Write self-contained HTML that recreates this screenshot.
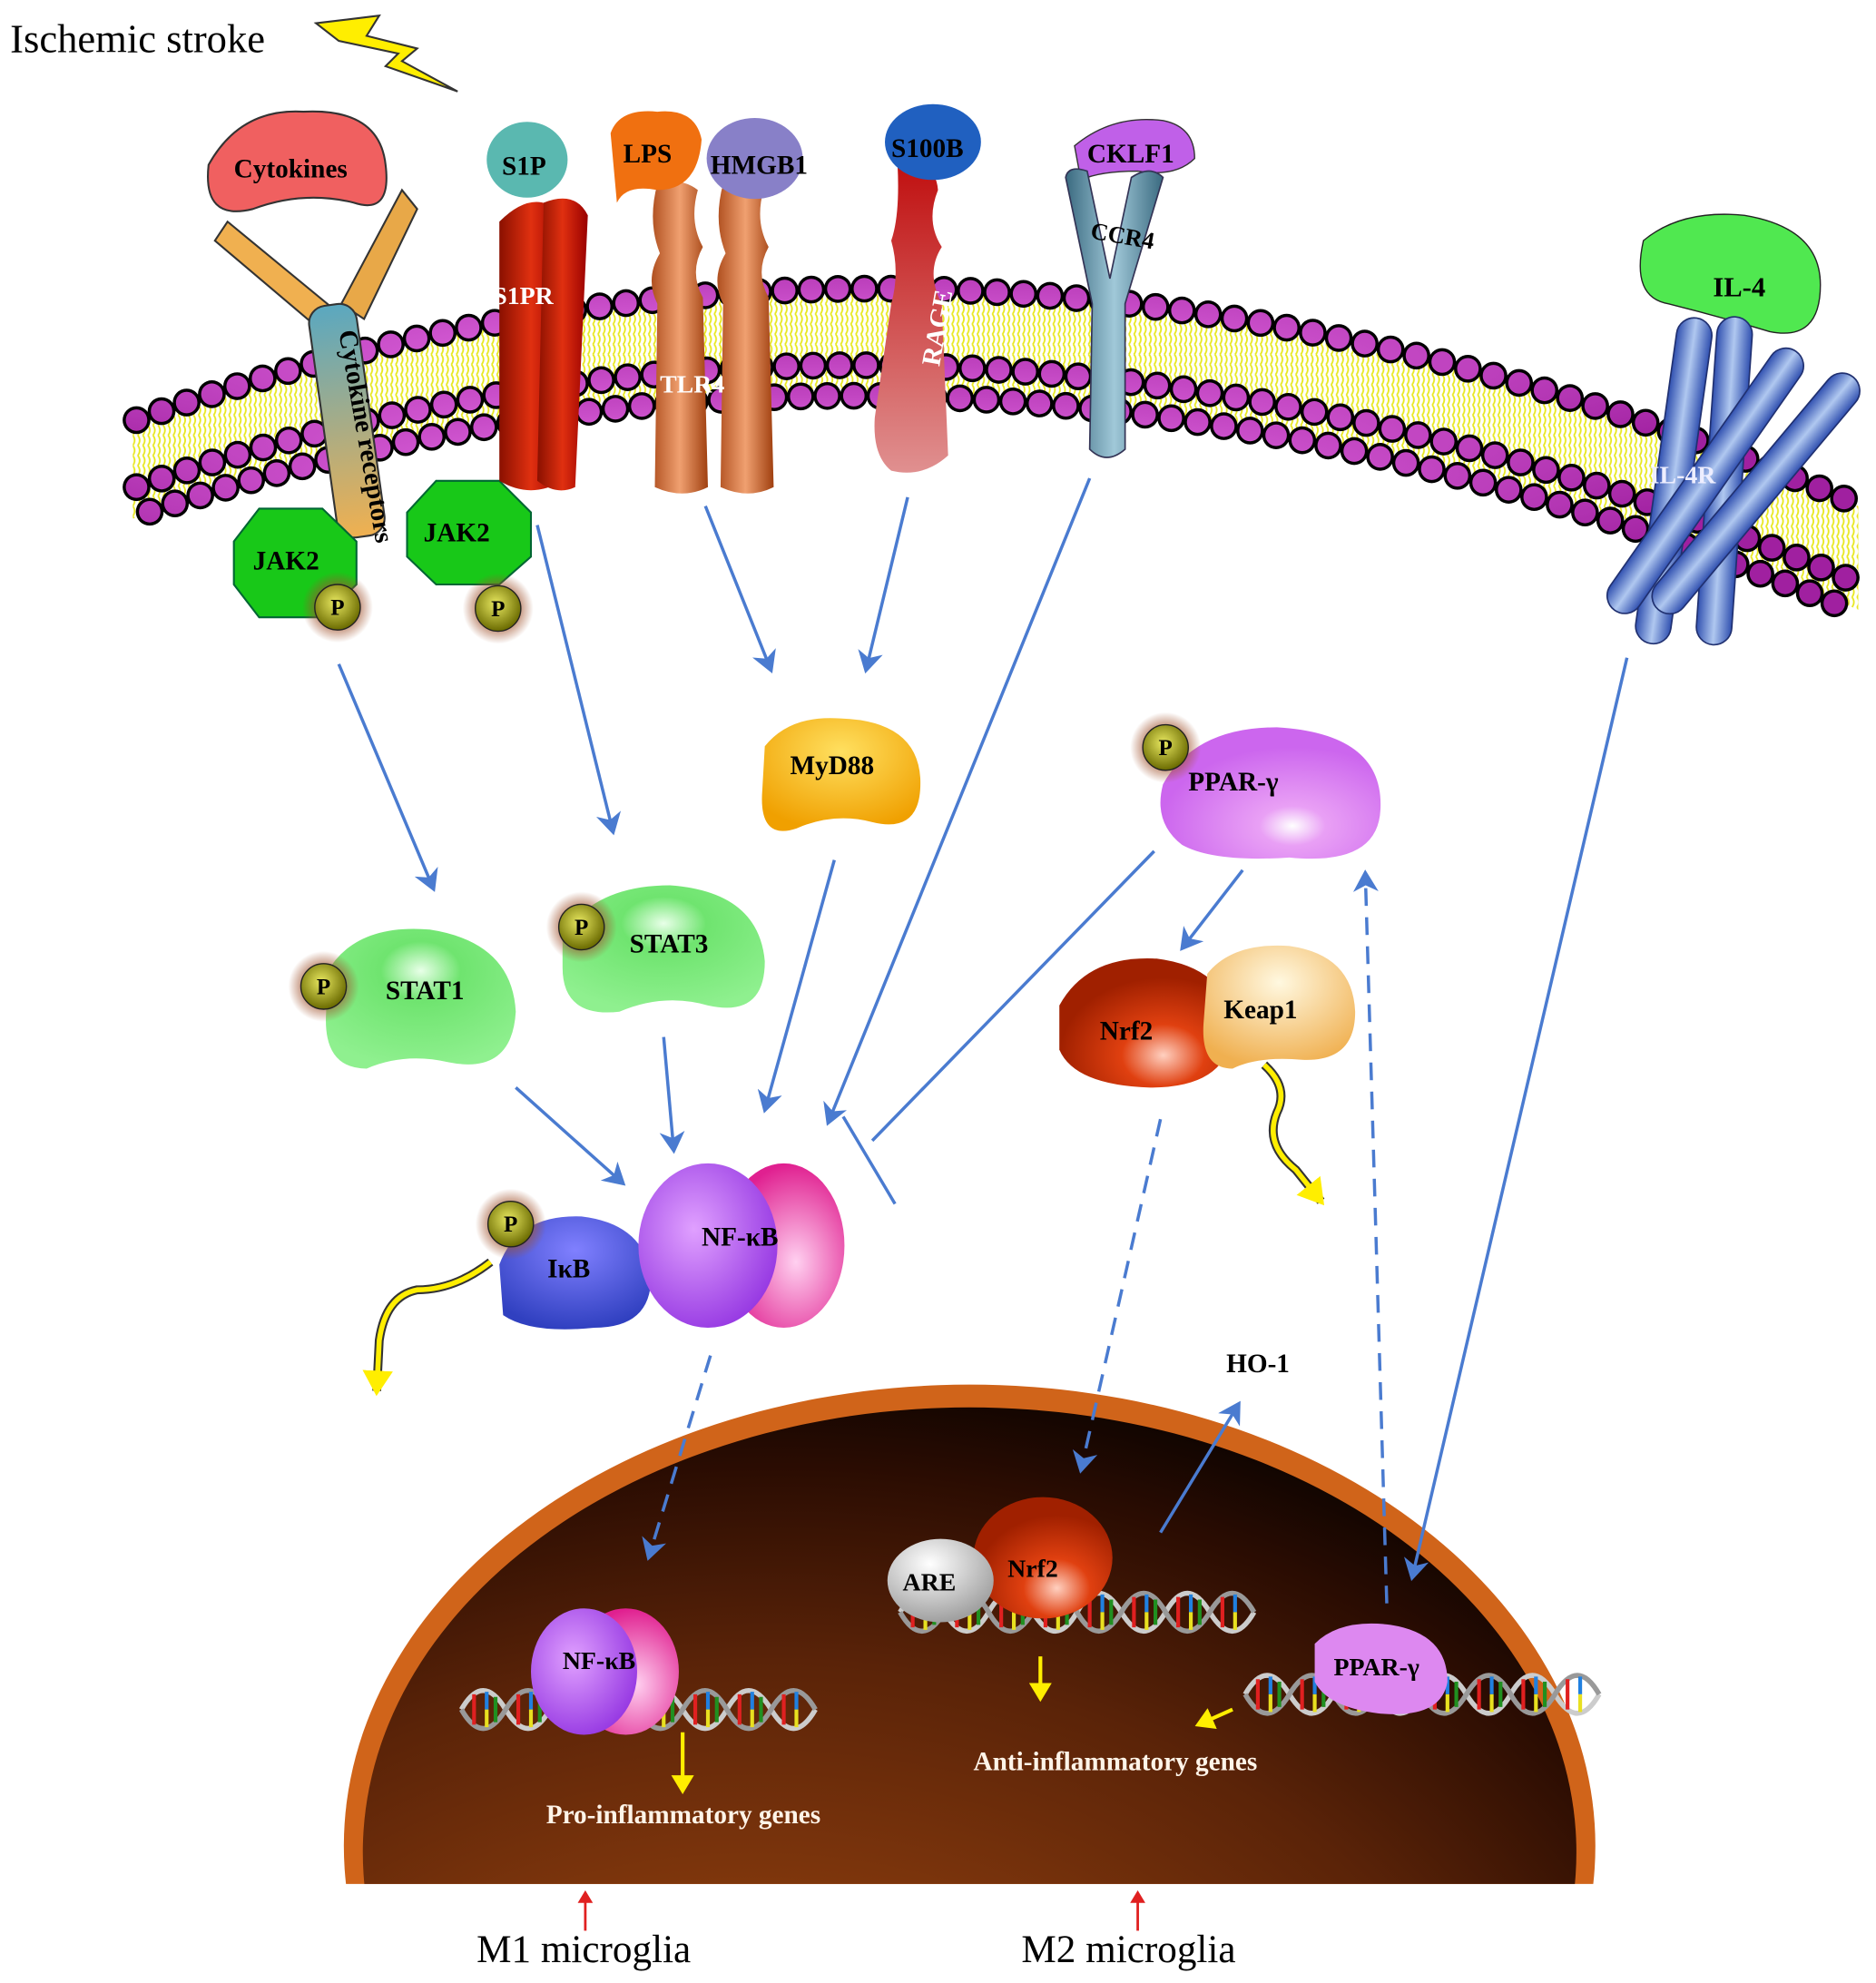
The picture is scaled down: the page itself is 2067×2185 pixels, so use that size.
<!DOCTYPE html>
<html><head><meta charset="utf-8"><style>html,body{margin:0;padding:0;background:#fff;overflow:hidden;width:2067px;height:2185px}svg{display:block}</style></head>
<body>
<svg width="2067" height="2185" viewBox="0 0 1484 1568" xmlns="http://www.w3.org/2000/svg" font-family="'Liberation Serif',serif">
<defs>
<radialGradient id="nuc" cx="0.35" cy="0.85" r="0.95" fx="0.3" fy="1">
<stop offset="0" stop-color="#c8621a"/><stop offset="0.35" stop-color="#8a3c0e"/><stop offset="0.65" stop-color="#5a2308"/><stop offset="0.85" stop-color="#2a0c02"/><stop offset="1" stop-color="#000"/></radialGradient>
<radialGradient id="ball" cx="0.4" cy="0.35" r="0.6"><stop offset="0" stop-color="#f07af0"/><stop offset="1" stop-color="#a020a0"/></radialGradient>
<radialGradient id="pgold" cx="0.45" cy="0.4" r="0.6"><stop offset="0" stop-color="#e8e860"/><stop offset="1" stop-color="#6a6a00"/></radialGradient>
<radialGradient id="glow"><stop offset="0.55" stop-color="#a0522d" stop-opacity="0.7"/><stop offset="1" stop-color="#a0522d" stop-opacity="0"/></radialGradient>
<radialGradient id="green" cx="0.5" cy="0.3" r="0.7"><stop offset="0" stop-color="#e8ffe8"/><stop offset="0.3" stop-color="#6fe46f"/><stop offset="1" stop-color="#8ff08f"/></radialGradient>
<radialGradient id="purp" cx="0.6" cy="0.75" r="0.6"><stop offset="0" stop-color="#fff"/><stop offset="0.25" stop-color="#e9a0f5"/><stop offset="1" stop-color="#cc66ee"/></radialGradient>
<radialGradient id="myd" cx="0.5" cy="0.3" r="0.7"><stop offset="0" stop-color="#ffe060"/><stop offset="1" stop-color="#f0a000"/></radialGradient>
<radialGradient id="nrf" cx="0.6" cy="0.75" r="0.6"><stop offset="0" stop-color="#ffd0c0"/><stop offset="0.4" stop-color="#e04010"/><stop offset="1" stop-color="#a02000"/></radialGradient>
<radialGradient id="keap" cx="0.5" cy="0.3" r="0.7"><stop offset="0" stop-color="#fff8e0"/><stop offset="1" stop-color="#f0b050"/></radialGradient>
<radialGradient id="nfk1" cx="0.4" cy="0.4" r="0.7"><stop offset="0" stop-color="#e0a0ff"/><stop offset="1" stop-color="#9030e0"/></radialGradient>
<radialGradient id="nfk2" cx="0.6" cy="0.6" r="0.6"><stop offset="0" stop-color="#ffd0f0"/><stop offset="1" stop-color="#e02090"/></radialGradient>
<radialGradient id="ikb" cx="0.5" cy="0.3" r="0.7"><stop offset="0" stop-color="#8080ff"/><stop offset="1" stop-color="#3040c0"/></radialGradient>
<radialGradient id="gray" cx="0.4" cy="0.3" r="0.7"><stop offset="0" stop-color="#fff"/><stop offset="1" stop-color="#a0a0a0"/></radialGradient>
<linearGradient id="red" x1="0" x2="1"><stop offset="0" stop-color="#8a1000"/><stop offset="0.5" stop-color="#e03010"/><stop offset="1" stop-color="#900"/></linearGradient>
<linearGradient id="tlr" x1="0" x2="1"><stop offset="0" stop-color="#b05020"/><stop offset="0.5" stop-color="#f0a070"/><stop offset="1" stop-color="#a04010"/></linearGradient>
<linearGradient id="rage" x1="0" y1="0" x2="0" y2="1"><stop offset="0" stop-color="#c01010"/><stop offset="1" stop-color="#e09090"/></linearGradient>
<linearGradient id="ccr" x1="0" x2="1"><stop offset="0" stop-color="#3a6a80"/><stop offset="0.5" stop-color="#a0c8d8"/><stop offset="1" stop-color="#3a6a80"/></linearGradient>
<linearGradient id="il4r" x1="0" x2="1"><stop offset="0" stop-color="#3050b0"/><stop offset="0.5" stop-color="#b0c8f0"/><stop offset="1" stop-color="#3050b0"/></linearGradient>
<linearGradient id="cyt" x1="0" y1="0" x2="0" y2="1"><stop offset="0" stop-color="#5aa8c0"/><stop offset="1" stop-color="#f0b050"/></linearGradient>
<marker id="ab" markerWidth="8" markerHeight="8" refX="6" refY="4" orient="auto" markerUnits="strokeWidth"><path d="M0,0 L7,4 L0,8 L2,4z" fill="#4a7bd0"/></marker>
<marker id="ay" markerWidth="6" markerHeight="6" refX="4" refY="3" orient="auto" markerUnits="strokeWidth"><path d="M0,0 L5,3 L0,6z" fill="#ffee00"/></marker>
<marker id="ar" markerWidth="6" markerHeight="6" refX="4" refY="3" orient="auto" markerUnits="strokeWidth"><path d="M0,0 L5,3 L0,6z" fill="#e02020"/></marker>
<clipPath id="nclip"><rect x="0" y="0" width="1484" height="1490"/></clipPath>
<pattern id="lip" width="8" height="8" patternUnits="userSpaceOnUse"><path d="M1,0 Q4,4 1,8 M5,0 Q8,4 5,8" stroke="#e8e820" stroke-width="1.3" fill="none"/></pattern>
<g id="dna">
<path d="M0,0 q17,-30 35,0 t35,0 t35,0 t35,0 t35,0 t35,0 t35,0 t35,0" stroke="#ccc" stroke-width="4" fill="none"/>
<path d="M0,0 q17,30 35,0 t35,0 t35,0 t35,0 t35,0 t35,0 t35,0 t35,0" stroke="#999" stroke-width="4" fill="none"/>
<g stroke-width="3"><path d="M10,-12v24M45,-12v24M80,-12v24M115,-12v24M150,-12v24M185,-12v24M220,-12v24M255,-12v24" stroke="#e02020"/><path d="M20,-14v14M55,-14v14M90,-14v14M125,-14v14M160,-14v14M195,-14v14M230,-14v14M265,-14v14" stroke="#2080e0"/><path d="M20,0v14M55,0v14M90,0v14M125,0v14M160,0v14M195,0v14M230,0v14M265,0v14" stroke="#e8e020"/><path d="M27,-10v20M62,-10v20M97,-10v20M132,-10v20M167,-10v20M202,-10v20M237,-10v20" stroke="#209020"/></g>
</g>
</defs>
<rect width="1484" height="1568" fill="#fff"/>
<text x="8" y="41" font-size="32">Ischemic stroke</text>
<path d="M250,18 L300,12 L290,28 L330,38 L318,48 L362,72 L305,52 L315,42 L268,32z" fill="#ffee00" stroke="#333" stroke-width="1.5"/>

<path d="M105,332 Q760,95 1470,400 L1470,482 Q760,185 105,410z" fill="url(#lip)"/>
<g fill="none" stroke-linecap="round">
<path d="M108,332 Q760,95 1468,398" stroke="#000" stroke-width="22" stroke-dasharray="0 21"/>
<path d="M108,332 Q760,95 1468,398" stroke="url(#ball)" stroke-width="17" stroke-dasharray="0 21"/>
<path d="M108,385 Q760,160 1468,460" stroke="#000" stroke-width="22" stroke-dasharray="0 21"/>
<path d="M108,385 Q760,160 1468,460" stroke="url(#ball)" stroke-width="17" stroke-dasharray="0 21"/>
<path d="M108,408 Q760,185 1468,484" stroke="#000" stroke-width="22" stroke-dasharray="0 21" stroke-dashoffset="10"/>
<path d="M108,408 Q760,185 1468,484" stroke="url(#ball)" stroke-width="17" stroke-dasharray="0 21" stroke-dashoffset="10"/>
</g>

<g stroke="#333" stroke-width="1.5">
<path d="M180,175 L265,245 L255,262 L170,190z" fill="#f0b050"/>
<path d="M318,150 L270,240 L288,252 L330,165z" fill="#e8a848"/>
<rect x="255" y="240" width="38" height="185" rx="14" fill="url(#cyt)" transform="rotate(-8 274 330)"/>
<path d="M165,130 Q190,85 240,88 Q300,85 305,130 Q310,170 280,160 Q240,150 200,165 Q160,175 165,130z" fill="#f06060"/>
</g>
<text x="185" y="140" font-size="21" font-weight="bold">Cytokines</text>
<text x="268" y="262" font-size="21" font-weight="bold" transform="rotate(80 268 262)">Cytokine receptors</text>
<g stroke="#063" stroke-width="1.5" fill="#18c818">
<polygon points="205,402 255,402 282,428 282,462 255,488 205,488 185,462 185,428"/>
<polygon points="345,380 395,380 420,405 420,440 395,462 345,462 322,440 322,405"/>
</g>
<text x="200" y="450" font-size="21" font-weight="bold">JAK2</text>
<text x="335" y="428" font-size="21" font-weight="bold">JAK2</text>
<g font-size="18" font-weight="bold" text-anchor="middle">
<circle cx="267" cy="480" r="28" fill="url(#glow)"/><circle cx="267" cy="480" r="18" fill="url(#pgold)" stroke="#222"/><text x="267" y="486">P</text>
<circle cx="394" cy="481" r="28" fill="url(#glow)"/><circle cx="394" cy="481" r="18" fill="url(#pgold)" stroke="#222"/><text x="394" y="487">P</text>
</g>
<path d="M395,175 Q420,150 440,165 L445,380 Q420,395 395,380z" fill="url(#red)"/>
<path d="M430,160 Q455,150 465,170 L455,385 Q440,392 425,380z" fill="url(#red)"/>
<ellipse cx="417" cy="126" rx="32" ry="30" fill="#5ab8b0"/>
<text x="397" y="138" font-size="21" font-weight="bold">S1P</text>
<text x="390" y="240" font-size="20" font-weight="bold" fill="#fff">S1PR</text>
<path d="M520,145 Q540,140 552,150 Q545,175 556,195 Q545,215 556,235 L560,385 Q540,395 518,385 L520,240 Q510,220 522,200 Q512,175 520,145z" fill="url(#tlr)"/>
<path d="M572,145 Q592,140 604,150 Q597,175 608,195 Q597,215 608,235 L612,385 Q592,395 570,385 L572,240 Q562,220 574,200 Q564,175 572,145z" fill="url(#tlr)"/>
<path d="M483,105 Q490,85 520,88 Q550,85 555,110 Q552,150 520,150 Q495,145 488,160z" fill="#f07010"/>
<ellipse cx="597" cy="125" rx="38" ry="32" fill="#8880c8"/>
<text x="493" y="128" font-size="21" font-weight="bold">LPS</text>
<text x="562" y="137" font-size="21" font-weight="bold">HMGB1</text>
<text x="522" y="310" font-size="20" font-weight="bold" fill="#fff">TLR4</text>
<path d="M710,130 Q740,125 742,150 Q732,175 745,195 Q732,215 745,240 L750,360 Q730,378 705,372 Q690,360 692,330 L705,240 Q712,215 705,190 Q712,170 710,130z" fill="url(#rage)"/>
<ellipse cx="738" cy="112" rx="38" ry="30" fill="#2060c0"/>
<text x="705" y="124" font-size="21" font-weight="bold">S100B</text>
<text x="743" y="290" font-size="21" font-weight="bold" fill="#fff" transform="rotate(-80 743 290)">RAGE</text>
<path d="M850,115 Q880,90 920,95 Q945,100 945,125 Q930,140 900,135 Q870,135 855,142z" fill="#c060e8" stroke="#333"/>
<path d="M843,140 Q845,130 860,135 L878,220 L895,140 Q910,130 920,140 L890,240 L890,355 Q875,368 862,355 L864,240z" fill="url(#ccr)" stroke="#335" stroke-width="1.2"/>
<text x="860" y="128" font-size="21" font-weight="bold">CKLF1</text>
<text x="862" y="188" font-size="19" font-weight="bold" transform="rotate(10 862 188)">CCR4</text>
<path d="M1300,190 Q1330,165 1380,170 Q1440,180 1440,225 Q1440,270 1400,262 Q1360,250 1320,240 Q1290,235 1300,190z" fill="#50e850" stroke="#222"/>
<text x="1355" y="234" font-size="22" font-weight="bold">IL-4</text>
<g stroke="#203070" stroke-width="1.2" fill="url(#il4r)">
<rect x="1310" y="250" width="28" height="260" rx="14" transform="rotate(8 1324 380)"/>
<rect x="1350" y="250" width="28" height="260" rx="14" transform="rotate(4 1364 380)"/>
<rect x="1335" y="255" width="28" height="250" rx="14" transform="rotate(35 1349 380)"/>
<rect x="1375" y="270" width="28" height="240" rx="14" transform="rotate(40 1389 390)"/>
</g>
<text x="1305" y="382" font-size="20" font-weight="bold" fill="#eef">IL-4R</text>

<g clip-path="url(#nclip)">
<ellipse cx="767" cy="1460" rx="495" ry="365" fill="#d0641a"/>
<ellipse cx="767" cy="1465" rx="480" ry="352" fill="url(#nuc)"/>
</g>

<path d="M605,590 Q625,565 665,568 Q725,570 728,615 Q730,660 690,650 Q660,642 630,655 Q600,665 603,625z" fill="url(#myd)"/>
<text x="625" y="612" font-size="21" font-weight="bold">MyD88</text>
<path d="M920,620 Q945,575 1010,575 Q1095,580 1092,640 Q1090,685 1020,678 Q960,682 935,668 Q912,650 920,620z" fill="url(#purp)"/>
<text x="940" y="625" font-size="21" font-weight="bold">PPAR-γ</text>
<g font-size="18" font-weight="bold" text-anchor="middle">
<circle cx="922" cy="591" r="28" fill="url(#glow)"/><circle cx="922" cy="591" r="18" fill="url(#pgold)" stroke="#222"/><text x="922" y="597">P</text>
</g>
<path d="M258,770 Q280,730 340,735 Q405,745 408,800 Q405,850 355,840 Q320,832 290,845 Q255,845 258,800z" fill="url(#green)"/>
<text x="305" y="790" font-size="21" font-weight="bold">STAT1</text>
<path d="M445,740 Q470,700 530,700 Q600,705 605,760 Q605,805 560,795 Q525,785 490,800 Q445,805 445,765z" fill="url(#green)"/>
<text x="498" y="753" font-size="21" font-weight="bold">STAT3</text>
<g font-size="18" font-weight="bold" text-anchor="middle">
<circle cx="256" cy="780" r="28" fill="url(#glow)"/><circle cx="256" cy="780" r="18" fill="url(#pgold)" stroke="#222"/><text x="256" y="786">P</text>
<circle cx="460" cy="733" r="28" fill="url(#glow)"/><circle cx="460" cy="733" r="18" fill="url(#pgold)" stroke="#222"/><text x="460" y="739">P</text>
</g>
<path d="M838,795 Q860,755 915,758 Q970,765 975,810 Q975,860 910,860 Q850,858 838,830z" fill="url(#nrf)"/>
<path d="M955,770 Q975,745 1020,748 Q1070,755 1072,800 Q1072,840 1030,838 Q995,835 975,845 Q950,845 952,810z" fill="url(#keap)"/>
<text x="870" y="822" font-size="21" font-weight="bold">Nrf2</text>
<text x="968" y="805" font-size="21" font-weight="bold">Keap1</text>
<path d="M395,1000 Q410,960 460,962 Q510,968 515,1010 Q515,1050 470,1050 Q420,1055 398,1040z" fill="url(#ikb)"/>
<text x="433" y="1010" font-size="21" font-weight="bold">IκB</text>
<ellipse cx="620" cy="985" rx="48" ry="65" fill="url(#nfk2)"/>
<ellipse cx="560" cy="985" rx="55" ry="65" fill="url(#nfk1)"/>
<text x="555" y="985" font-size="21" font-weight="bold">NF-κB</text>
<g font-size="18" font-weight="bold" text-anchor="middle">
<circle cx="404" cy="968" r="28" fill="url(#glow)"/><circle cx="404" cy="968" r="18" fill="url(#pgold)" stroke="#222"/><text x="404" y="974">P</text>
</g>

<g stroke="#4a7bd0" stroke-width="2.5" fill="none" marker-end="url(#ab)">
<path d="M268,525 L343,703"/>
<path d="M425,415 L485,658"/>
<path d="M558,400 L610,530"/>
<path d="M718,393 L685,530"/>
<path d="M660,680 L605,878"/>
<path d="M862,378 L655,888"/>
<path d="M408,860 L493,936"/>
<path d="M525,820 L533,910"/>
<path d="M983,688 L935,750"/>
<path d="M918,1212 L980,1110"/>
<path d="M1287,520 L1117,1248"/>
<path d="M918,885 L855,1163" stroke-dasharray="14 9"/>
<path d="M562,1072 L513,1232" stroke-dasharray="14 9"/>
<path d="M1097,1268 L1080,690" stroke-dasharray="14 9"/>
</g>
<path d="M913,673 L690,902 M667,883 L708,952" stroke="#4a7bd0" stroke-width="2.5" fill="none"/>
<path d="M388,998 Q360,1020 330,1020 Q305,1025 300,1060 L298,1100" stroke="#333" stroke-width="7" fill="none"/>
<path d="M388,998 Q360,1020 330,1020 Q305,1025 300,1060 L298,1100" stroke="#ffee00" stroke-width="4" fill="none" marker-end="url(#ay)"/>
<path d="M1000,842 Q1020,860 1010,880 Q1000,905 1025,925 L1045,950" stroke="#333" stroke-width="7" fill="none"/>
<path d="M1000,842 Q1020,860 1010,880 Q1000,905 1025,925 L1045,950" stroke="#ffee00" stroke-width="4" fill="none" marker-end="url(#ay)"/>

<use href="#dna" x="365" y="1352"/>
<use href="#dna" x="712" y="1275"/>
<use href="#dna" x="985" y="1340"/>
<ellipse cx="495" cy="1322" rx="42" ry="50" fill="url(#nfk2)"/>
<ellipse cx="462" cy="1322" rx="42" ry="50" fill="url(#nfk1)"/>
<text x="445" y="1320" font-size="20" font-weight="bold">NF-κB</text>
<ellipse cx="825" cy="1232" rx="55" ry="48" fill="url(#nrf)"/>
<ellipse cx="744" cy="1250" rx="42" ry="33" fill="url(#gray)"/>
<text x="714" y="1258" font-size="20" font-weight="bold">ARE</text>
<text x="797" y="1247" font-size="20" font-weight="bold">Nrf2</text>
<path d="M1040,1300 Q1060,1280 1100,1285 Q1145,1292 1145,1330 Q1140,1360 1090,1355 Q1050,1350 1040,1330z" fill="#dd88f0"/>
<text x="1055" y="1325" font-size="20" font-weight="bold">PPAR-γ</text>
<g stroke="#ffee00" stroke-width="3" fill="none" marker-end="url(#ay)">
<path d="M540,1370 L540,1416"/><path d="M823,1310 L823,1343"/><path d="M975,1352 L948,1364"/>
</g>
<text x="432" y="1442" font-size="21" font-weight="bold" fill="#fff4e8">Pro-inflammatory genes</text>
<text x="770" y="1400" font-size="21" font-weight="bold" fill="#fff4e8">Anti-inflammatory genes</text>
<text x="970" y="1085" font-size="21" font-weight="bold">HO-1</text>

<g stroke="#e02020" stroke-width="2" marker-end="url(#ar)"><path d="M463,1527 L463,1497"/><path d="M900,1527 L900,1497"/></g>
<text x="377" y="1552" font-size="31">M1  microglia</text>
<text x="808" y="1552" font-size="31">M2 microglia</text>
</svg>
</body></html>
